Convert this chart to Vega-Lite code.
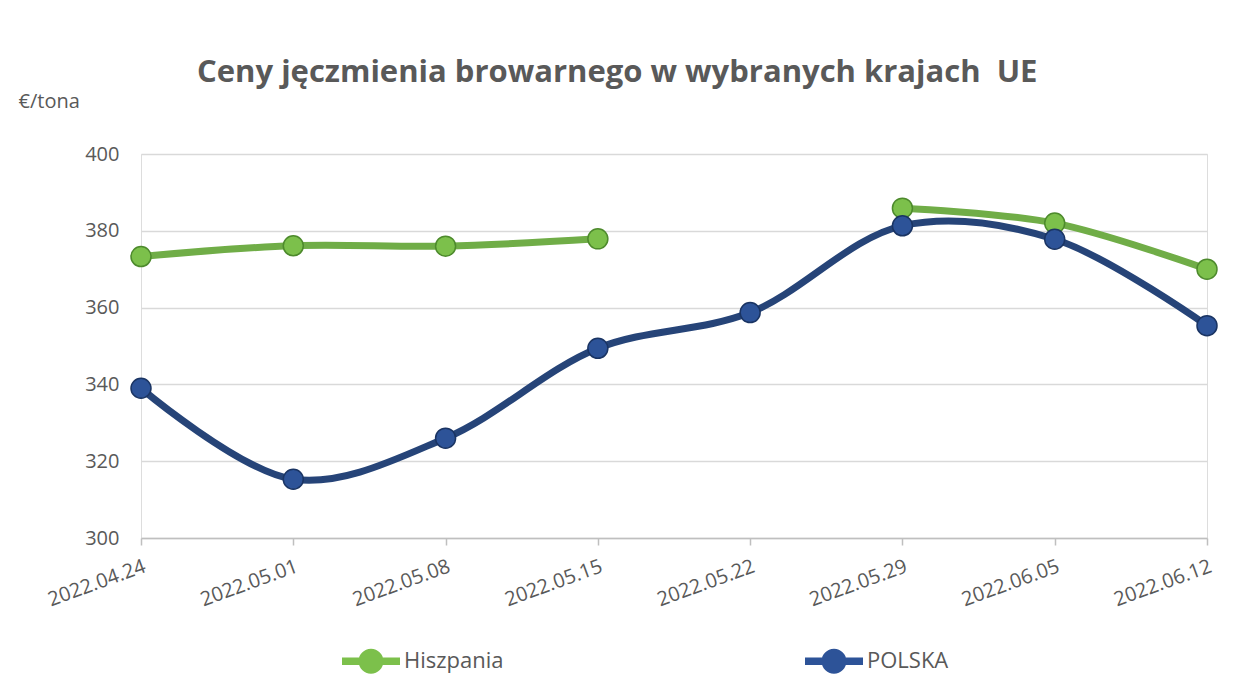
{
  "$schema": "https://vega.github.io/schema/vega-lite/v6.json",
  "width": 1066,
  "height": 384,
  "autosize": {"type": "none"},
  "padding": {"left": 141, "top": 154, "right": 49, "bottom": 153},
  "background": "white",
  "title": {
    "text": "Ceny jęczmienia browarnego w wybranych krajach\u00a0 UE",
    "font": "Open Sans",
    "fontSize": 31,
    "fontWeight": "bold",
    "color": "#595959",
    "anchor": "start",
    "frame": "group",
    "dx": 56,
    "offset": 2
  },
  "data": {
    "values": [
      {"date": "2022.04.24", "series": "Hiszpania", "value": 373.3},
      {"date": "2022.05.01", "series": "Hiszpania", "value": 376.1},
      {"date": "2022.05.08", "series": "Hiszpania", "value": 376.0},
      {"date": "2022.05.15", "series": "Hiszpania", "value": 377.9},
      {"date": "2022.05.22", "series": "Hiszpania", "value": null},
      {"date": "2022.05.29", "series": "Hiszpania", "value": 385.9},
      {"date": "2022.06.05", "series": "Hiszpania", "value": 382.0},
      {"date": "2022.06.12", "series": "Hiszpania", "value": 370.0},
      {"date": "2022.04.24", "series": "POLSKA", "value": 339.0},
      {"date": "2022.05.01", "series": "POLSKA", "value": 315.3},
      {"date": "2022.05.08", "series": "POLSKA", "value": 326.0},
      {"date": "2022.05.15", "series": "POLSKA", "value": 349.4},
      {"date": "2022.05.22", "series": "POLSKA", "value": 358.7},
      {"date": "2022.05.29", "series": "POLSKA", "value": 381.3},
      {"date": "2022.06.05", "series": "POLSKA", "value": 377.8},
      {"date": "2022.06.12", "series": "POLSKA", "value": 355.3}
    ]
  },
  "encoding": {
    "x": {
      "field": "date",
      "type": "ordinal",
      "sort": null,
      "scale": {"type": "point", "padding": 0},
      "axis": {
        "title": null,
        "labelAngle": -20,
        "labelAlign": "right",
        "labelBaseline": "top",
        "labelPadding": 11,
        "tickSize": 7,
        "tickColor": "#bfbfbf",
        "tickWidth": 1.5,
        "domainColor": "#bfbfbf",
        "domainWidth": 1.5,
        "grid": false,
        "labelFont": "Open Sans",
        "labelFontSize": 20,
        "labelColor": "#595959"
      }
    },
    "y": {
      "field": "value",
      "type": "quantitative",
      "scale": {"domain": [300, 400], "nice": false, "zero": false},
      "axis": {
        "values": [300, 320, 340, 360, 380, 400],
        "title": "€/tona",
        "titleAngle": 0,
        "titleX": -123,
        "titleY": -47,
        "titleAlign": "left",
        "titleBaseline": "alphabetic",
        "titleFont": "Open Sans",
        "titleFontSize": 20,
        "titleFontWeight": "normal",
        "titleColor": "#595959",
        "labelFont": "Open Sans",
        "labelFontSize": 20,
        "labelColor": "#595959",
        "labelPadding": 22,
        "domain": false,
        "ticks": false,
        "gridColor": "#d9d9d9",
        "gridWidth": 1.5
      }
    }
  },
  "layer": [
    {
      "mark": {"type": "line", "interpolate": "catmull-rom", "strokeWidth": 7},
      "encoding": {
        "color": {
          "field": "series",
          "type": "nominal",
          "scale": {"domain": ["Hiszpania", "POLSKA"], "range": ["#70AD47", "#264478"]},
          "legend": {
            "title": null,
            "orient": "none",
            "legendX": 201,
            "legendY": 478,
            "direction": "horizontal",
            "columns": 2,
            "columnPadding": 301,
            "symbolType": "M-1,-0.13H-0.3V0.13H-1Z M0.3,-0.13H1V0.13H0.3Z M0.43,0A0.43,0.43 0 1 1 -0.43,0A0.43,0.43 0 1 1 0.43,0Z",
            "symbolSize": 3364,
            "symbolStrokeWidth": 0,
            "labelFont": "Open Sans",
            "labelFontSize": 22,
            "labelColor": "#595959",
            "labelOffset": 4,
            "encode": {"symbols": {"update": {"fill": {"field": "value", "scale": "color"}, "strokeWidth": {"value": 0}}}}
          }
        }
      }
    },
    {
      "mark": {"type": "point", "shape": "circle", "filled": true, "size": 400, "strokeWidth": 1.5, "opacity": 1},
      "encoding": {
        "fill": {
          "field": "series",
          "type": "nominal",
          "scale": {"domain": ["Hiszpania", "POLSKA"], "range": ["#7cc04b", "#2d5398"]},
          "legend": null
        },
        "stroke": {
          "field": "series",
          "type": "nominal",
          "scale": {"domain": ["Hiszpania", "POLSKA"], "range": ["#4d8a2c", "#1a3463"]},
          "legend": null
        }
      }
    }
  ]
}
